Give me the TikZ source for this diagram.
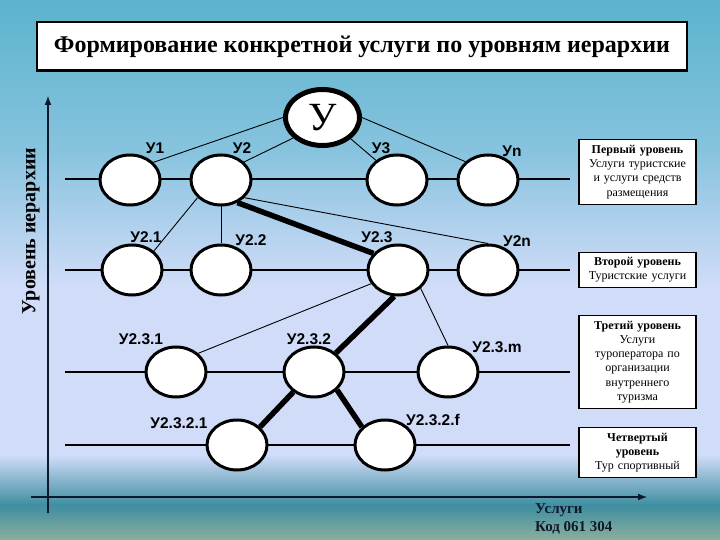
\documentclass[tikz,border=0pt]{standalone}
\usepackage{fontspec}
\setmainfont{Liberation Serif}
\setsansfont{Liberation Sans}
\usepackage{tikz}
\usetikzlibrary{positioning,arrows.meta,shapes.geometric}
\definecolor{bgtop}{RGB}{91,179,204}
\definecolor{bgsky}{RGB}{135,195,222}
\definecolor{bglav}{RGB}{208,220,248}
\definecolor{bgteal}{RGB}{62,142,160}
\definecolor{bgmoss}{RGB}{140,175,155}
\definecolor{axisink}{RGB}{15,25,45}
\tikzset{
  axisarrow/.style={-{Latex[length=3.5mm,width=2.4mm]}, line width=2.4bp, draw=axisink},
  levelline/.style={line width=1.1bp},
  thinlink/.style={line width=0.9bp},
  thicklink/.style={line width=5.5bp},
  servnode/.style={draw, ellipse, line width=3bp, fill=white, minimum width=60bp, minimum height=50bp, inner sep=0pt},
  rootnode/.style={draw, ellipse, line width=5bp, fill=white, minimum width=74bp, minimum height=56bp, inner sep=0pt, font=\fontsize{40bp}{40bp}\selectfont},
  servlabel/.style={font=\fontsize{15.5bp}{18bp}\selectfont\sffamily\bfseries, inner sep=0pt},
  levelbox/.style={draw, line width=1.2bp, fill=white, text width=115bp, align=center, inner sep=1bp, font=\fontsize{12bp}{14.2bp}\selectfont}
}

\begin{document}
\begin{tikzpicture}[x=1bp, y=-1bp, >=Latex]
  \useasboundingbox (0,0) rectangle (720,540);
  % background
  \fill[top color=bgtop, bottom color=bgsky] (0,0) rectangle (720,150.5);
  \fill[top color=bgsky, bottom color=bglav] (0,150) rectangle (720,285.5);
  \fill[bglav] (0,285) rectangle (720,455.5);
  \fill[top color=bglav, bottom color=bgteal] (0,455) rectangle (720,505.5);
  \fill[top color=bgteal, bottom color=bgmoss] (0,505) rectangle (720,540);

  % title
  \node[draw, line width=2.5bp, fill=white, minimum width=649.5bp, minimum height=48.5bp,
        font=\fontsize{24bp}{28bp}\selectfont\bfseries] (title) at (362,46.5)
        {Формирование конкретной услуги по уровням иерархии};

  % axes
  \coordinate (ybot) at (48,513);
  \coordinate (ytop) at (48,95);
  \coordinate (xleft) at (31,497);
  \coordinate (xright) at (648,497);
  \draw[axisarrow] (ybot) -- (ytop);
  \draw[axisarrow] (xleft) -- (xright);
  \node[rotate=90, font=\fontsize{20bp}{24bp}\selectfont\bfseries, inner sep=0pt] (ylabel) at (31,231) {Уровень иерархии};
  \node[anchor=west, align=left, inner sep=0pt, text=axisink,
        font=\fontsize{15bp}{18bp}\selectfont\bfseries] (xlabel) at (535,519) {Услуги\\Код 061 304};

  % level lines
  \foreach \y in {179,270,372,445}
    \draw[levelline] (65,\y) -- (570,\y);

  % services
  \node[rootnode] (U) at (322.5,117.5) {У};
  \node[servnode] (E1) at (130,180) {};
  \node[servnode] (E2) at (221,180) {};
  \node[servnode] (E3) at (397,180) {};
  \node[servnode] (En) at (488,180) {};
  \node[servnode] (E21) at (132,270) {};
  \node[servnode] (E22) at (221,270) {};
  \node[servnode] (E23) at (398,270) {};
  \node[servnode] (E2n) at (488,270) {};
  \node[servnode] (E231) at (176,372) {};
  \node[servnode] (E232) at (314,372) {};
  \node[servnode] (E23m) at (448,372) {};
  \node[servnode] (E2321) at (237,445) {};
  \node[servnode] (E232f) at (385,445) {};

  \node[servlabel] (lE1) at (155,148) {У1};
  \node[servlabel] (lE2) at (242,148) {У2};
  \node[servlabel] (lE3) at (381,148) {У3};
  \node[servlabel] (lEn) at (512,151) {Уn};
  \node[servlabel] (lE21) at (146,237) {У2.1};
  \node[servlabel] (lE22) at (251,240) {У2.2};
  \node[servlabel] (lE23) at (377,237) {У2.3};
  \node[servlabel] (lE2n) at (517,241) {У2n};
  \node[servlabel] (lE231) at (141,339) {У2.3.1};
  \node[servlabel] (lE232) at (309,339) {У2.3.2};
  \node[servlabel] (lE23m) at (497,347) {У2.3.m};
  \node[servlabel] (lE2321) at (179,423) {У2.3.2.1};
  \node[servlabel] (lE232f) at (433,420) {У2.3.2.f};

  % links
  \draw[thinlink] (U.180) -- (E1.37);
  \draw[thinlink] (U.215) -- (E2.38);
  \draw[thinlink] (U.-37) -- (E3.137);
  \draw[thinlink] (U.0) -- (En.141);
  \draw[thinlink] (E2.217) -- (E21.41);
  \draw[thinlink] (E2.south) -- (E22.north);
  \draw[thicklink] (E2.-54) -- (E23.146);
  \draw[thinlink] (E2.-37) -- (E2n.north);
  \draw[thinlink] (E23.207) -- (E231.40);
  \draw[thicklink] (E23.-98) -- (E232.41);
  \draw[thinlink] (E23.-39) -- (E23m.north);
  \draw[thicklink] (E232.224) -- (E2321.38);
  \draw[thicklink] (E232.-38) -- (E232f.142);

  % level notes
  \node[levelbox, minimum height=64.8bp] (note1) at (637.5,172)
    {\textbf{Первый уровень}\\Услуги туристские\\и услуги средств\\размещения};
  \node[levelbox, minimum height=34.8bp] (note2) at (637.5,270)
    {\textbf{Второй уровень}\\Туристские услуги};
  \node[levelbox, minimum height=92.8bp] (note3) at (637.5,362)
    {\textbf{Третий уровень}\\Услуги\\туроператора по\\организации\\внутреннего\\туризма};
  \node[levelbox, minimum height=49.8bp] (note4) at (637.5,452.5)
    {\textbf{Четвертый}\\\textbf{уровень}\\Тур спортивный};
\end{tikzpicture}
\end{document}
